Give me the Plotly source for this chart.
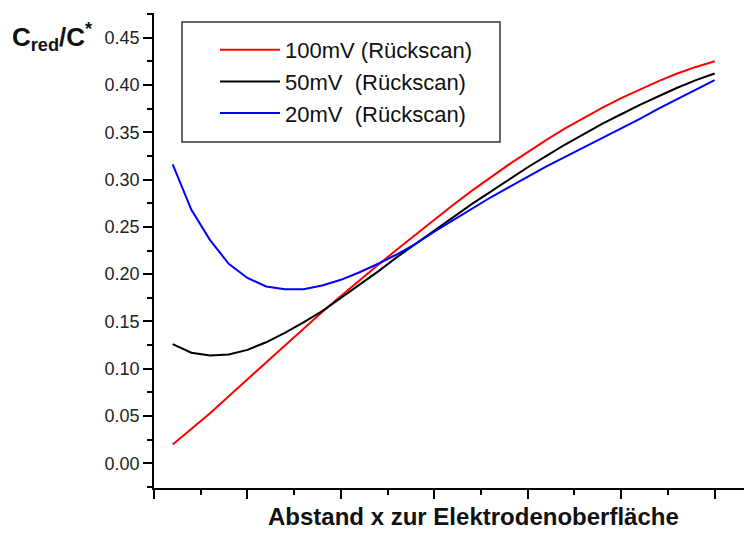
import plotly.graph_objects as go

x_vals = [0.2, 0.4, 0.6, 0.8, 1.0, 1.2, 1.4, 1.6, 1.8, 2.0,
          2.2, 2.4, 2.6, 2.8, 3.0, 3.2, 3.4, 3.6, 3.8, 4.0,
          4.2, 4.4, 4.6, 4.8, 5.0, 5.2, 5.4, 5.6, 5.8, 6.0]

red_100mV = [0.020, 0.036, 0.053, 0.071, 0.089, 0.107, 0.125, 0.143, 0.160, 0.177,
             0.194, 0.210, 0.226, 0.242, 0.258, 0.273, 0.288, 0.302, 0.316, 0.329,
             0.342, 0.354, 0.365, 0.376, 0.386, 0.395, 0.404, 0.412, 0.419, 0.425]

black_50mV = [0.126, 0.117, 0.114, 0.115, 0.120, 0.128, 0.138, 0.149, 0.161, 0.175,
              0.189, 0.203, 0.218, 0.232, 0.246, 0.260, 0.274, 0.287, 0.300, 0.313,
              0.325, 0.337, 0.348, 0.359, 0.369, 0.379, 0.388, 0.397, 0.405, 0.412]

blue_20mV = [0.316, 0.268, 0.236, 0.211, 0.196, 0.187, 0.184, 0.184, 0.188, 0.194,
             0.202, 0.211, 0.221, 0.232, 0.245, 0.257, 0.269, 0.281, 0.292, 0.303,
             0.314, 0.324, 0.334, 0.344, 0.354, 0.364, 0.375, 0.385, 0.395, 0.405]

names = ["100mV (Rückscan)", "50mV  (Rückscan)", "20mV  (Rückscan)"]
colors = ["#ff0000", "#000000", "#0000ff"]
series = [red_100mV, black_50mV, blue_20mV]

y_ticks = [0.00, 0.05, 0.10, 0.15, 0.20, 0.25, 0.30, 0.35, 0.40, 0.45]

# page body has an 8px margin; figure sized to fill the rest of the window
W, H = 744, 525
L, T, B = 146, 5, 45
PW, PH = W - L, H - T - B

fig = go.Figure()
for name, col, ys in zip(names, colors, series):
    fig.add_trace(go.Scatter(x=x_vals, y=ys, mode="lines", name=name,
                             line=dict(color=col, width=2)))

fig.update_layout(
    width=W, height=H,
    margin=dict(l=L, r=0, t=T, b=B),
    plot_bgcolor="white", paper_bgcolor="white",
    font=dict(family="Arial, Liberation Sans, sans-serif", color="#111"),
    showlegend=True,
    legend=dict(x=(215 - 154) / PW, y=1 - (29 - 13) / PH, xanchor="left", yanchor="top",
                bgcolor="rgba(0,0,0,0)", borderwidth=0, itemwidth=60,
                font=dict(size=22, color="#111")),
    xaxis=dict(range=[0, 6.4], showgrid=False, zeroline=False,
               showline=True, linecolor="black", linewidth=1.5,
               ticks="outside", tickvals=[0, 1, 2, 3, 4, 5, 6], ticklen=9,
               tickwidth=1.5, tickcolor="black", showticklabels=False,
               minor=dict(ticks="outside", dtick=0.5, ticklen=5, tickwidth=1.5, tickcolor="black")),
    yaxis=dict(range=[-0.026, 0.476], showgrid=False, zeroline=False,
               showline=True, linecolor="black", linewidth=1.5,
               ticks="outside", tickvals=y_ticks, ticktext=[f"{v:.2f}" for v in y_ticks],
               ticklen=9, tickwidth=1.5, tickcolor="black",
               tickfont=dict(size=18, color="#222"),
               minor=dict(ticks="outside", dtick=0.025, ticklen=5, tickwidth=1.5, tickcolor="black")),
)

# legend frame
fig.add_shape(type="rect", xref="paper", yref="paper",
              x0=(182 - 154) / PW, x1=(500 - 154) / PW,
              y0=(488 - 142) / PH, y1=(488 - 22) / PH,
              line=dict(color="#333", width=1.5), fillcolor="rgba(0,0,0,0)")

fig.add_annotation(text="<b>C<sub>red</sub>/C<sup>*</sup></b>", xref="paper", yref="paper",
                   x=(10 - 154) / PW, y=(488 - 37) / PH, xanchor="left", yanchor="middle",
                   showarrow=False, font=dict(size=26, color="#111"))

fig.add_annotation(text="<b>Abstand x zur Elektrodenoberfläche</b>", xref="paper", yref="paper",
                   x=(473 - 154) / PW, y=(488 - 532) / PH, xanchor="center", yanchor="bottom",
                   showarrow=False, font=dict(size=24, color="#111"))

fig.write_html("out.html")
